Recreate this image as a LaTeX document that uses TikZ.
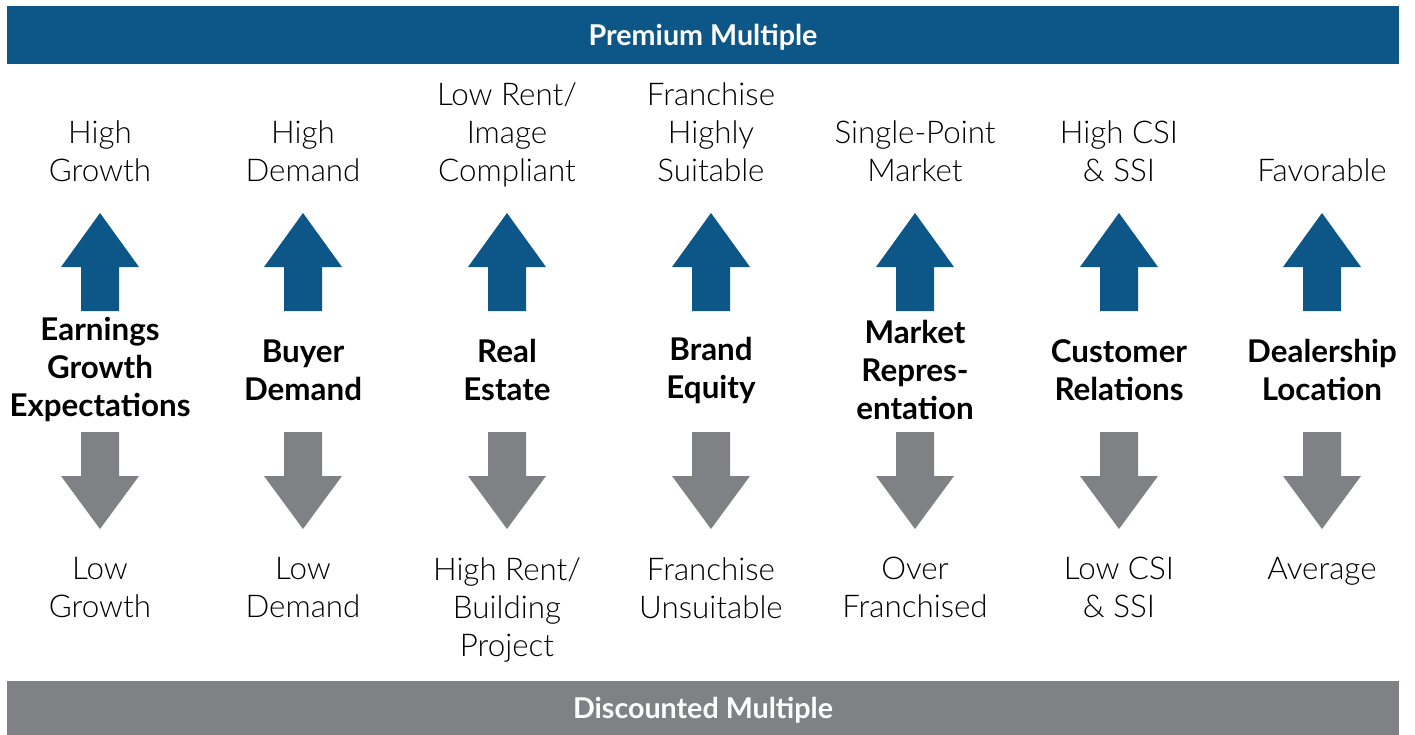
\documentclass[tikz,border=0pt]{standalone}
\usepackage{fontspec}
\setmainfont{Lato}[UprightFont=* Light,BoldFont=* Bold]
\definecolor{premblue}{HTML}{0C5788}
\definecolor{discgray}{HTML}{808184}

\tikzset{
  bar/.style={minimum width=1044pt,inner sep=0pt,text=white,text height=15.5pt,text depth=0pt,font=\fontsize{21.5}{25}\selectfont\bfseries},
  uplabel/.style={anchor=south,text depth=0pt,inner sep=0pt,align=center,font=\fontsize{23.5}{28.5}\selectfont},
  downlabel/.style={anchor=north,inner sep=0pt,align=center,font=\fontsize{23.5}{28.5}\selectfont},
  factor/.style={inner sep=0pt,align=center,font=\fontsize{23.5}{28.5}\selectfont\bfseries}
}

\begin{document}
\begin{tikzpicture}[x=0.75pt,y=-0.75pt]
    \useasboundingbox (0,0) rectangle (1415,735);

    \node[bar,fill=premblue,minimum height=43.5pt](premium)at(703,35){Premium Multiple};
    \node[bar,fill=discgray,minimum height=41.25pt](discount)at(703,708){Discounted Multiple};

    \foreach \x in {100,303,507,711,915,1119,1322}{
        \fill[premblue](\x-19,311)--(\x-19,267)--(\x-39,267)--(\x,213)--(\x+39,267)--(\x+19,267)--(\x+19,311)--cycle;
        \fill[discgray](\x-19,432)--(\x-19,476)--(\x-39,476)--(\x,529)--(\x+39,476)--(\x+19,476)--(\x+19,432)--cycle;
    }

    \node[uplabel](up1)at(100,182){High\\Growth};
    \node[factor](f1)at(100,370){Earnings\\Growth\\Expectations};
    \node[downlabel](down1)at(100,557){Low\\Growth};

    \node[uplabel](up2)at(303,182){High\\Demand};
    \node[factor](f2)at(303,370){Buyer\\Demand};
    \node[downlabel](down2)at(303,557){Low\\Demand};

    \node[uplabel](up3)at(507,182){Low Rent/\\Image\\Compliant};
    \node[factor](f3)at(507,370){Real\\Estate};
    \node[downlabel](down3)at(507,557){High Rent/\\Building\\Project};

    \node[uplabel](up4)at(711,182){Franchise\\Highly\\Suitable};
    \node[factor](f4)at(711,370){Brand\\Equity};
    \node[downlabel](down4)at(711,557){Franchise\\Unsuitable};

    \node[uplabel](up5)at(915,182){Single-Point\\Market};
    \node[factor](f5)at(915,370){Market\\Repres-\\entation};
    \node[downlabel](down5)at(915,557){Over\\Franchised};

    \node[uplabel](up6)at(1119,182){High CSI\\\& SSI};
    \node[factor](f6)at(1119,370){Customer\\Relations};
    \node[downlabel](down6)at(1119,557){Low CSI\\\& SSI};

    \node[uplabel](up7)at(1322,182){Favorable};
    \node[factor](f7)at(1322,370){Dealership\\Location};
    \node[downlabel](down7)at(1322,557){Average};
\end{tikzpicture}
\end{document}
